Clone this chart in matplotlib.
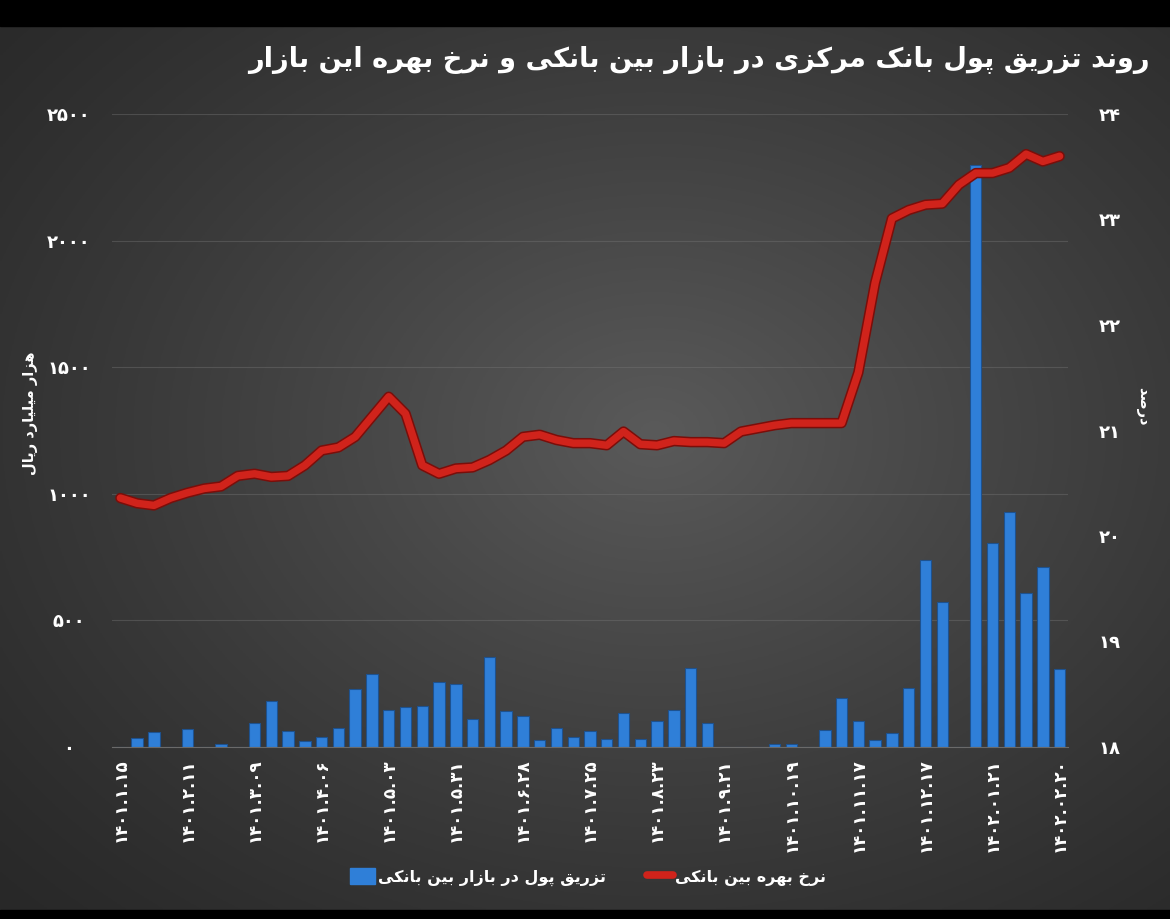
import numpy as np
import matplotlib
matplotlib.use('Agg')
import matplotlib.pyplot as plt
from matplotlib.patches import Patch, Rectangle
from matplotlib.lines import Line2D

# weekly central bank injection (thousand billion rial) and interbank rate (%)
injection = [0, 36, 59, 0, 71, 0, 12, 0, 95, 182, 63, 24, 40, 75, 229, 288, 146, 158, 162, 257,
             249, 111, 356, 142, 122, 28, 75, 40, 63, 32, 134, 32, 103, 146, 312, 95, 0, 0, 0, 12,
             12, 0, 67, 194, 103, 28, 55, 233, 739, 573, 0, 2300, 806, 928, 608, 711, 308]
rate = [20.36, 20.31, 20.29, 20.36, 20.41, 20.45, 20.47, 20.57, 20.59, 20.56, 20.57, 20.67, 20.81,
        20.84, 20.94, 21.13, 21.32, 21.16, 20.67, 20.59, 20.64, 20.65, 20.72, 20.81, 20.94, 20.96,
        20.91, 20.88, 20.88, 20.86, 20.99, 20.87, 20.86, 20.90, 20.89, 20.89, 20.88, 20.99, 21.02,
        21.05, 21.07, 21.07, 21.07, 21.07, 21.55, 22.40, 23.01, 23.09, 23.14, 23.15, 23.33, 23.44,
        23.44, 23.49, 23.62, 23.55, 23.60]
date_labels = ['1401.1.15', '1401.2.11', '1401.3.09', '1401.4.06', '1401.5.03', '1401.5.31',
               '1401.6.28', '1401.7.25', '1401.8.23', '1401.9.21', '1401.10.19', '1401.11.17',
               '1401.12.17', '1402.01.21', '1402.02.20']
left_ticks = [0, 500, 1000, 1500, 2000, 2500]
right_ticks = [18, 19, 20, 21, 22, 23, 24]

title = 'روند تزریق پول بانک مرکزی در بازار بین بانکی و نرخ بهره این بازار'
bar_name = 'تزریق پول در بازار بین بانکی'
line_name = 'نرخ بهره بین بانکی'
left_name = 'هزار میلیارد ریال'
right_name = 'درصد'

# arabic letter shaping: (isolated, final, initial, medial)
FORMS = {
    '\u0627': ('\uFE8D', '\uFE8E', None, None),
    '\u0628': ('\uFE8F', '\uFE90', '\uFE91', '\uFE92'),
    '\u062A': ('\uFE95', '\uFE96', '\uFE97', '\uFE98'),
    '\u062E': ('\uFEA5', '\uFEA6', '\uFEA7', '\uFEA8'),
    '\u062F': ('\uFEA9', '\uFEAA', None, None),
    '\u0631': ('\uFEAD', '\uFEAE', None, None),
    '\u0632': ('\uFEAF', '\uFEB0', None, None),
    '\u0635': ('\uFEB9', '\uFEBA', '\uFEBB', '\uFEBC'),
    '\u0642': ('\uFED5', '\uFED6', '\uFED7', '\uFED8'),
    '\u0644': ('\uFEDD', '\uFEDE', '\uFEDF', '\uFEE0'),
    '\u0645': ('\uFEE1', '\uFEE2', '\uFEE3', '\uFEE4'),
    '\u0646': ('\uFEE5', '\uFEE6', '\uFEE7', '\uFEE8'),
    '\u0647': ('\uFEE9', '\uFEEA', '\uFEEB', '\uFEEC'),
    '\u0648': ('\uFEED', '\uFEEE', None, None),
    '\u067E': ('\uFB56', '\uFB57', '\uFB58', '\uFB59'),
    '\u06A9': ('\uFB8E', '\uFB8F', '\uFB90', '\uFB91'),
    '\u06CC': ('\uFBFC', '\uFBFD', '\uFBFE', '\uFBFF'),
}


def fa(s):
    out = []
    for i, ch in enumerate(s):
        if ch not in FORMS:
            out.append(ch)
            continue
        f = FORMS[ch]
        prev = s[i - 1] if i > 0 else ''
        nxt = s[i + 1] if i + 1 < len(s) else ''
        pj = prev in FORMS and FORMS[prev][2] is not None
        nj = nxt in FORMS and f[2] is not None
        if pj and nj:
            out.append(f[3])
        elif pj:
            out.append(f[1])
        elif nj:
            out.append(f[2])
        else:
            out.append(f[0])
    return ''.join(out)[::-1]


def fa_digits(s):
    return s.translate(str.maketrans('0123456789', '۰۱۲۳۴۵۶۷۸۹'))


plt.rcParams['font.family'] = ['DejaVu Sans']
plt.rcParams['font.weight'] = 'bold'

fig = plt.figure(figsize=(11.7, 9.19), dpi=100)
fig.patch.set_facecolor('#000000')

# radial gradient background
bg = fig.add_axes([0, 9 / 919, 1, 1 - 9 / 919 - 26 / 919])
bg.set_axis_off()
yy, xx = np.mgrid[0:1:300j, 0:1:400j]
r = np.sqrt(((xx - 0.56) / 0.78) ** 2 + ((yy - 0.54) / 0.78) ** 2)
t = np.clip(1 - r, 0, 1) ** 1.2
c_edge = np.array([40, 40, 40]) / 255
c_mid = np.array([90, 90, 90]) / 255
img = c_edge + (c_mid - c_edge) * t[..., None]
bg.imshow(img, aspect='auto', extent=[0, 1, 0, 1], origin='lower')
bg.set_xlim(0, 1)
bg.set_ylim(0, 1)

x = np.arange(len(injection))

ax = fig.add_axes([112 / 1170, 1 - 747 / 919, (1068 - 112) / 1170, (747 - 114) / 919])
ax.set_facecolor('none')
ax.bar(x, injection, width=0.68, color='#2f7fd8', edgecolor='#1d5290', linewidth=0.8, zorder=2)
ax.set_xlim(-0.5, len(injection) - 0.5)
ax.set_ylim(0, 2500)
ax.set_yticks(left_ticks)
ax.set_yticklabels([fa_digits(str(v)) for v in left_ticks], color='white', fontsize=13,
                   fontweight='bold', ha='center')
ax.tick_params(axis='y', length=0, pad=31)
ax.set_xticks(x[::4])
ax.set_xticklabels([fa_digits(d) for d in date_labels], rotation=90, color='white',
                   fontsize=12, fontweight='bold')
ax.tick_params(axis='x', length=0, pad=8)
ax.grid(axis='y', color='#777777', linewidth=0.8, alpha=0.4, zorder=0)
for s in ['top', 'right', 'left']:
    ax.spines[s].set_visible(False)
ax.spines['bottom'].set_color('#6a6a6a')
ax.spines['bottom'].set_linewidth(0.8)
ax.set_axisbelow(True)

ax2 = ax.twinx()
ax2.plot(x, rate, color='#7a0e0a', linewidth=7.5, solid_capstyle='round', solid_joinstyle='round')
ax2.plot(x, rate, color='#d0231b', linewidth=5.3, solid_capstyle='round', solid_joinstyle='round')
ax2.set_ylim(18, 24)
ax2.set_yticks(right_ticks)
ax2.set_yticklabels([fa_digits(str(v)) for v in right_ticks], color='white', fontsize=13,
                    fontweight='bold', ha='center')
ax2.tick_params(axis='y', length=0, pad=30)
for s in ['top', 'right', 'left', 'bottom']:
    ax2.spines[s].set_visible(False)

fig.text(30 / 1170, 1 - 413 / 919, fa(left_name), rotation=90, color='white', fontsize=10.5,
         fontweight='bold', ha='center', va='center')
fig.text(1143 / 1170, 1 - 406 / 919, fa(right_name), rotation=-90, color='white', fontsize=10.5,
         fontweight='bold', ha='center', va='center')
fig.text(1150 / 1170, 1 - 60 / 919, fa(title), color='white', fontsize=19.6, fontweight='bold',
         ha='right', va='center')

handles = [Patch(facecolor='#2f7fd8', edgecolor='#2f7fd8'),
           Line2D([0], [0], color='#d0231b', linewidth=5.5, solid_capstyle='round')]
leg = fig.legend(handles, [fa(bar_name), fa(line_name)], loc='center', ncol=2,
                 bbox_to_anchor=(588 / 1170, 1 - 877 / 919), frameon=False, fontsize=11.5,
                 labelcolor='white', handlelength=1.6, handleheight=1.2, columnspacing=2.6,
                 handletextpad=0.15)

# black letterbox bands of the screenshot
fig.patches.append(Rectangle((0, 1 - 26 / 919), 1, 26 / 919, transform=fig.transFigure,
                             color='black', zorder=10))
fig.patches.append(Rectangle((0, 0), 1, 9 / 919, transform=fig.transFigure,
                             color='black', zorder=10))

fig.savefig('out.png', dpi=100, facecolor=fig.get_facecolor())
plt.close(fig)
